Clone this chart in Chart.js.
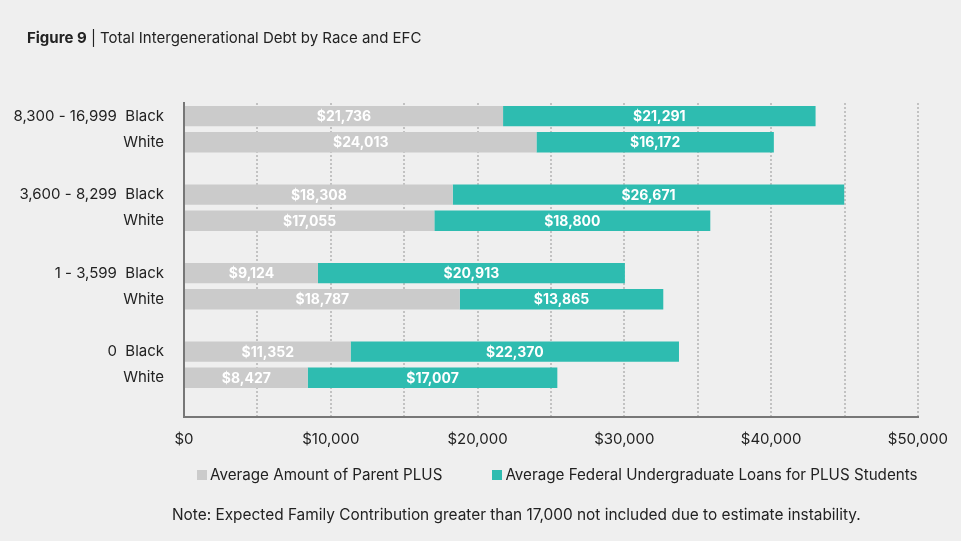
<!DOCTYPE html>
<html>
<head>
<meta charset="utf-8">
<script src="https://cdn.jsdelivr.net/npm/chart.js@4"></script>
<style>
  body { margin: 0; background: #efefef; font-family: Inter, sans-serif; color: #222; }
  #wrap { position: relative; width: 961px; height: 541px; }
  #title { position: absolute; left: 27px; top: 29px; font-size: 15px; line-height: 18px; }
  #legend { position: absolute; left: 197px; top: 466px; display: flex; gap: 50px; font-size: 15.2px; line-height: 18px; }
  #legend .item { display: flex; align-items: center; }
  #legend .box { width: 10px; height: 10px; margin-right: 3px; }
  #note { position: absolute; left: 172px; top: 506px; font-size: 15.4px; line-height: 18px; }
</style>
</head>
<body>
<div id="wrap">
  <canvas id="debtChart"></canvas>
  <div id="title"><b>Figure 9</b> | Total Intergenerational Debt by Race and EFC</div>
  <div id="legend"></div>
  <div id="note">Note: Expected Family Contribution greater than 17,000 not included due to estimate instability.</div>
</div>
<script>
// rows top to bottom, '' rows are spacers between EFC groups
const categories = [
  '8,300 - 16,999  Black', 'White', '',
  '3,600 - 8,299  Black', 'White', '',
  '1 - 3,599  Black', 'White', '',
  '0  Black', 'White', ''
];
const parentPlus = [21736, 24013, null, 18308, 17055, null, 9124, 18787, null, 11352, 8427, null];
const federalLoans = [21291, 16172, null, 26671, 18800, null, 20913, 13865, null, 22370, 17007, null];
const seriesNames = ['Average Amount of Parent PLUS', 'Average Federal Undergraduate Loans for PLUS Students'];
const seriesColors = ['#cbcbcb', '#2ebcb0'];
const xMax = 50000;
const xStep = 5000;
const xLabelEvery = 10000;

Chart.defaults.font.family = 'Inter, sans-serif';
Chart.defaults.font.size = 15;
Chart.defaults.color = '#222';

// white value labels centred in each segment
const barLabels = {
  id: 'barLabels',
  afterDatasetsDraw(chart) {
    const ctx = chart.ctx;
    ctx.save();
    ctx.font = 'bold 14px Inter, sans-serif';
    ctx.fillStyle = '#ffffff';
    ctx.textAlign = 'center';
    ctx.textBaseline = 'middle';
    chart.data.datasets.forEach((ds, i) => {
      chart.getDatasetMeta(i).data.forEach((bar, j) => {
        const v = ds.data[j];
        if (v == null) return;
        const p = bar.getProps(['x', 'y', 'base'], true);
        ctx.fillText('$' + v.toLocaleString('en-US'), (p.x + p.base) / 2, p.y + 1);
      });
    });
    ctx.restore();
  }
};

const ctx = document.getElementById('debtChart').getContext('2d');
const chart = new Chart(ctx, {
  type: 'bar',
  data: {
    labels: categories,
    datasets: [{
      label: seriesNames[0],
      data: parentPlus,
      backgroundColor: seriesColors[0],
      borderWidth: 0,
    }, {
      label: seriesNames[1],
      data: federalLoans,
      backgroundColor: seriesColors[1],
      borderWidth: 0,
    }]
  },
  options: {
    indexAxis: 'y',
    responsive: true,
    maintainAspectRatio: false,
    animation: false,
    datasets: {
      bar: { categoryPercentage: 1, barPercentage: 0.78 }
    },
    layout: {
      padding: { top: 103, right: 40, bottom: 80, left: 0 }
    },
    scales: {
      x: {
        stacked: true,
        min: 0,
        max: xMax,
        grid: { color: '#c2c2c2', lineWidth: 2, drawTicks: false },
        border: { color: '#777', width: 2, dash: [2, 2] },
        ticks: {
          stepSize: xStep,
          autoSkip: false,
          maxRotation: 0,
          padding: 13,
          callback: (v) => (v % xLabelEvery === 0 ? '$' + v.toLocaleString('en-US') : '')
        }
      },
      y: {
        stacked: true,
        grid: { display: false, drawTicks: false },
        border: { color: '#777', width: 2 },
        ticks: { autoSkip: false, padding: 20 },
        afterFit(scale) { scale.width = 184; }
      }
    },
    plugins: {
      legend: { display: false },
      tooltip: { enabled: false }
    }
  },
  plugins: [barLabels]
});

// legend built from the chart's datasets
const legendDiv = document.getElementById('legend');
chart.data.datasets.forEach((ds) => {
  const item = document.createElement('div');
  item.className = 'item';
  const box = document.createElement('span');
  box.className = 'box';
  box.style.background = ds.backgroundColor;
  item.appendChild(box);
  item.appendChild(document.createTextNode(ds.label));
  legendDiv.appendChild(item);
});
</script>
</body>
</html>
